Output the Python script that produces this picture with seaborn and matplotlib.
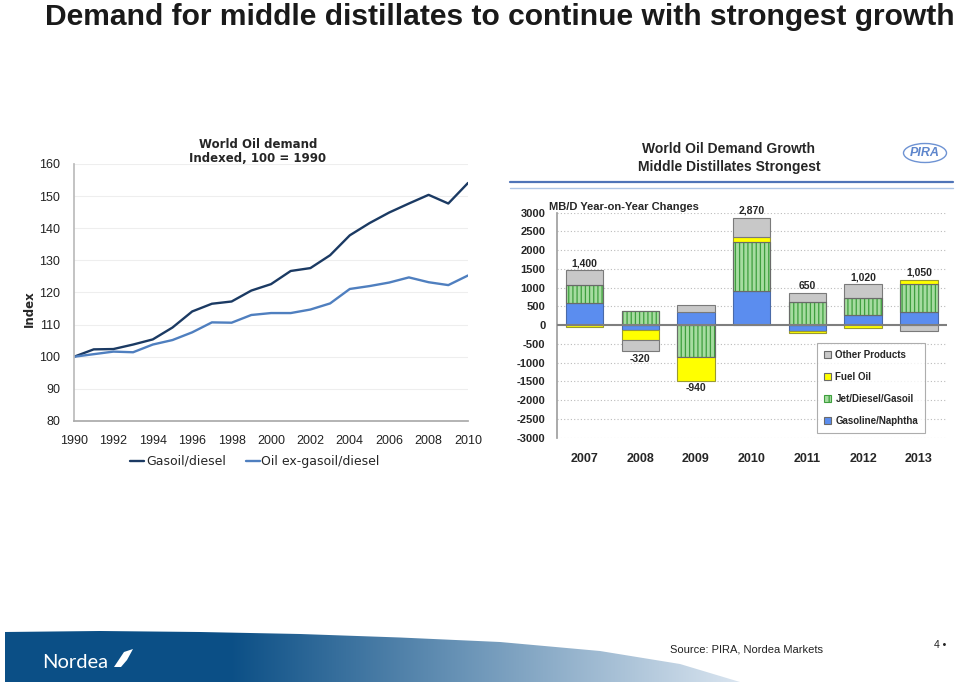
import numpy as np
import pandas as pd
import matplotlib
matplotlib.use("Agg")
import matplotlib.pyplot as plt
import seaborn as sns
from matplotlib.patches import Patch, Polygon, Ellipse
from matplotlib.lines import Line2D

# ---------------- data ----------------
years = list(range(1990, 2011))
gasoil_diesel = [100, 102.3, 102.4, 103.8, 105.4, 109.1, 114.1, 116.5, 117.2, 120.6,
                 122.6, 126.7, 127.6, 131.6, 137.8, 141.6, 144.9, 147.7, 150.4, 147.7, 154.1]
oil_ex_gasoil = [100, 100.8, 101.6, 101.4, 103.8, 105.2, 107.6, 110.7, 110.6, 113.0,
                 113.6, 113.6, 114.7, 116.6, 121.1, 122.0, 123.1, 124.7, 123.2, 122.3, 125.3]
line_series = ["Gasoil/diesel", "Oil ex-gasoil/diesel"]

bar_years = ["2007", "2008", "2009", "2010", "2011", "2012", "2013"]
gasoline_naphtha = [600, -120, 340, 900, -150, 285, 365]
jet_diesel_gasoil = [480, 380, -860, 1320, 610, 445, 740]
fuel_oil = [-60, -270, -630, 135, -50, -70, 100]
other_products = [380, -310, 210, 515, 240, 360, -155]
net_totals = [1400, -320, -940, 2870, 650, 1020, 1050]
yticks_right = [3000, 2500, 2000, 1500, 1000, 500, 0, -500, -1000, -1500, -2000, -2500, -3000]

# ---------------- style ----------------
sns.set_theme(style="white")
plt.rcParams["font.family"] = ["Liberation Sans", "DejaVu Sans"]
plt.rcParams["hatch.linewidth"] = 0.9

W, H = 960, 684
fig = plt.figure(figsize=(9.6, 6.84), dpi=100)
fig.patch.set_facecolor("white")

def fx(px):
    return px / W

def fy(py):
    return 1 - py / H

# background axes in pixel coordinates
bg = fig.add_axes([0, 0, 1, 1], zorder=-5)
bg.set_axis_off()

# title
bg.text(45, 25, "Demand for middle distillates to continue with strongest growth",
        fontsize=21.6, fontweight="bold", color="#1a1a1a", va="baseline", ha="left")

# footer gradient band
c_dark = np.array([0x0B, 0x4F, 0x86]) / 255
c_light = np.array([0xDA, 0xE5, 0xF0]) / 255
t = np.clip((np.arange(960) - 230) / (740 - 230), 0, 1)
row = c_dark[None, :] * (1 - t[:, None]) + c_light[None, :] * t[:, None]
grad = np.repeat(row[None, :, :], 10, axis=0)
im = bg.imshow(grad, extent=(0, 960, 684, 620), aspect="auto", zorder=1)
band = Polygon([(5, 682), (5, 632), (100, 631), (200, 632), (300, 634), (400, 637.5),
                (500, 642), (600, 651), (680, 664), (740, 682)],
               closed=True, transform=bg.transData, facecolor="none", edgecolor="none")
bg.add_patch(band)
im.set_clip_path(band)

bg.text(42, 662, "Nordea", color="white", fontsize=14.5, va="center", ha="left",
        family=["Lato", "DejaVu Sans"])
bg.add_patch(Polygon([(114, 667), (124, 652), (133, 649), (127, 660), (121, 667)],
                     closed=True, facecolor="white", edgecolor="none", zorder=3))
bg.text(670, 650, "Source: PIRA, Nordea Markets", fontsize=8, va="center", ha="left", color="#222222")
bg.text(934, 645, "4 \u2022", fontsize=7.5, va="center", ha="left", color="#222222")

# right header
bg.text(729, 149, "World Oil Demand Growth", fontsize=10, fontweight="bold", ha="center", va="center")
bg.text(729, 167, "Middle Distillates Strongest", fontsize=10, fontweight="bold", ha="center", va="center")
bg.add_patch(Ellipse((925, 153), 43, 19, facecolor="white", edgecolor="#6E93D3", linewidth=1))
bg.text(925, 153.5, "PIRA", fontsize=9, fontweight="bold", style="italic", color="#5E86CC",
        ha="center", va="center")
bg.plot([510, 953], [181.7, 181.7], color="#4F74B8", linewidth=1.6)
bg.plot([510, 953], [188, 188], color="#AFC6E6", linewidth=1)

# left title and ylabel
bg.text(258, 144, "World Oil demand", fontsize=8.5, fontweight="bold", ha="center", va="center",
        family="DejaVu Sans")
bg.text(258, 159, "Indexed, 100 = 1990", fontsize=8.5, fontweight="bold", ha="center", va="center",
        family="DejaVu Sans")
bg.text(29, 309, "Index", fontsize=8.5, fontweight="bold", ha="center", va="center", rotation=90,
        family="DejaVu Sans")

bg.set_xlim(0, W)
bg.set_ylim(H, 0)

# ---------------- left line chart ----------------
axL = fig.add_axes([fx(74), fy(421), fx(468) - fx(74), fy(164) - fy(421)])
df = pd.DataFrame({
    "Year": years + years,
    "Index": gasoil_diesel + oil_ex_gasoil,
    "Series": [line_series[0]] * len(years) + [line_series[1]] * len(years),
})
line_colors = {line_series[0]: "#1B3A63", line_series[1]: "#4F7FBF"}
sns.lineplot(data=df, x="Year", y="Index", hue="Series", palette=line_colors, ax=axL,
             legend=False, linewidth=1.7)
axL.set_xlim(1990, 2010)
axL.set_ylim(80, 160)
axL.set_yticks(range(80, 161, 10))
for yv in range(90, 161, 10):
    axL.axhline(yv, color="#EEEEEE", linewidth=0.8, zorder=0)
axL.set_xticks(years)
axL.set_xticklabels([str(y) if y % 2 == 0 else "" for y in years])
axL.set_xlabel("")
axL.set_ylabel("")
for s in ["top", "right"]:
    axL.spines[s].set_visible(False)
axL.spines["left"].set_color("#BBBBBB")
axL.spines["bottom"].set_color("#AAAAAA")
axL.tick_params(axis="both", which="major", direction="out", colors="#AAAAAA", labelcolor="#222222",
                labelsize=9, width=0.8)
axL.tick_params(axis="y", length=5, pad=5)
axL.tick_params(axis="x", length=4, pad=6)
handles = [Line2D([0], [0], color=line_colors[s], linewidth=1.7) for s in line_series]
axL.legend(handles, line_series, loc="center", bbox_to_anchor=(fx(255), fy(461.5)),
           bbox_transform=fig.transFigure, ncol=2, frameon=False, handlelength=1.1,
           handletextpad=0.15, columnspacing=1.6, prop={"family": "DejaVu Sans", "size": 9})

# ---------------- right stacked bar chart ----------------
axR = fig.add_axes([fx(556.7), fy(437.7), fx(946.7) - fx(556.7), fy(212.7) - fy(437.7)])
x = np.arange(len(bar_years))
bw = 0.67
series = [
    ("Gasoline/Naphtha", gasoline_naphtha, dict(facecolor="#5B8DEF", edgecolor="#4A6AA8")),
    ("Jet/Diesel/Gasoil", jet_diesel_gasoil, dict(facecolor="#A6DCA0", edgecolor="#3E9F3E", hatch="||||")),
    ("Fuel Oil", fuel_oil, dict(facecolor="#FFFF00", edgecolor="#9A9A30")),
    ("Other Products", other_products, dict(facecolor="#C8C8C8", edgecolor="#7A7A7A")),
]
pos_bottom = np.zeros(len(x))
neg_bottom = np.zeros(len(x))
for name, vals, kw in series:
    vals = np.array(vals, dtype=float)
    bottoms = np.where(vals >= 0, pos_bottom, neg_bottom)
    axR.bar(x, vals, bw, bottom=bottoms, linewidth=0.8, zorder=3, **kw)
    if kw.get("hatch"):
        axR.bar(x, vals, bw, bottom=bottoms, fill=False, edgecolor="#6A6A6A", linewidth=0.8, zorder=4)
    pos_bottom = pos_bottom + np.where(vals >= 0, vals, 0)
    neg_bottom = neg_bottom + np.where(vals < 0, vals, 0)

for i, tot in enumerate(net_totals):
    if tot >= 0:
        axR.annotate(f"{tot:,}", (x[i], pos_bottom[i]), xytext=(0, 1.5), textcoords="offset points",
                     ha="center", va="bottom", fontsize=7.5, fontweight="bold")
    else:
        axR.annotate(f"{tot:,}", (x[i], neg_bottom[i]), xytext=(0, -1.5), textcoords="offset points",
                     ha="center", va="top", fontsize=7.5, fontweight="bold")

axR.set_xlim(-0.5, 6.5)
axR.set_ylim(-3000, 3000)
axR.set_yticks(yticks_right)
axR.set_yticklabels([str(v) for v in yticks_right])
axR.set_xticks(x)
axR.set_xticklabels(bar_years)
for v in yticks_right:
    if v != 0:
        axR.axhline(v, color="#BBBBBB", linewidth=0.8, linestyle=(0, (1, 2)), zorder=1)
axR.axhline(0, color="#7F7F7F", linewidth=1.5, zorder=5)
for s in ["top", "right", "bottom"]:
    axR.spines[s].set_visible(False)
axR.spines["left"].set_color("#A0A0A0")
axR.tick_params(axis="y", length=0, pad=8, labelsize=8)
axR.tick_params(axis="x", length=0, pad=11, labelsize=9)
for lab in axR.get_yticklabels() + axR.get_xticklabels():
    lab.set_fontweight("bold")
axR.text(-0.02, 1.005, "MB/D Year-on-Year Changes", transform=axR.transAxes, fontsize=8,
         fontweight="bold", ha="left", va="bottom")

leg_handles = [
    Patch(facecolor="#C8C8C8", edgecolor="#6A6A6A", linewidth=0.8),
    Patch(facecolor="#FFFF00", edgecolor="#6A6A6A", linewidth=0.8),
    Patch(facecolor="#A6DCA0", edgecolor="#3E9F3E", hatch="||", linewidth=0.8),
    Patch(facecolor="#5B8DEF", edgecolor="#6A6A6A", linewidth=0.8),
]
leg_labels = ["Other Products", "Fuel Oil", "Jet/Diesel/Gasoil", "Gasoline/Naphtha"]
lg = axR.legend(leg_handles, leg_labels, loc="upper left", bbox_to_anchor=(fx(817), fy(343)),
                bbox_transform=fig.transFigure, fancybox=False, frameon=True,
                prop={"weight": "bold", "size": 7}, handlelength=0.75, handleheight=0.75,
                handletextpad=0.45, labelspacing=1.25, borderpad=0.7, borderaxespad=0)
lg.get_frame().set_edgecolor("#999999")
lg.get_frame().set_linewidth(0.8)
lg.set_zorder(10)

fig.savefig("out.png", dpi=100)
